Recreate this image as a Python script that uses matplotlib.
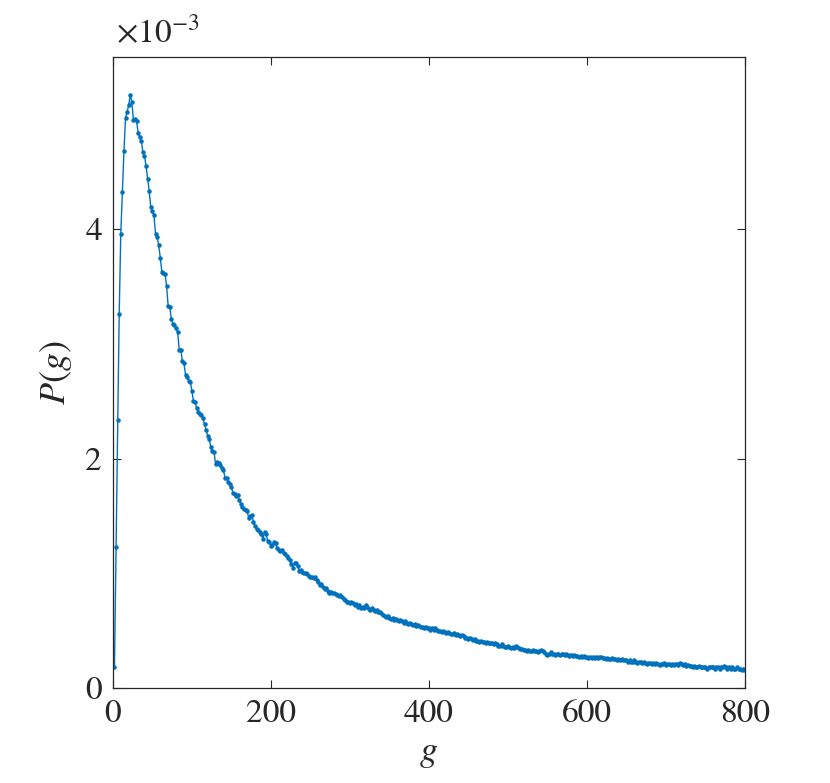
import numpy as np
import matplotlib
matplotlib.use("Agg")
import matplotlib.pyplot as plt

# P(g), in units of 1e-3, for g = 2, 4, ..., 800
g = np.arange(2, 801, 2)
p_milli = [
    # g = 2 .. 80
    0.18, 1.23, 2.34, 3.26, 3.96, 4.32, 4.68, 4.97, 5.02, 5.08,
    5.17, 5.11, 4.95, 4.96, 4.94, 4.84, 4.80, 4.77, 4.67, 4.64,
    4.55, 4.44, 4.33, 4.19, 4.16, 4.12, 3.96, 3.93, 3.86, 3.75,
    3.63, 3.62, 3.61, 3.50, 3.33, 3.32, 3.22, 3.17, 3.16, 3.14,
    # g = 82 .. 140
    3.10, 2.95, 2.95, 2.85, 2.83, 2.73, 2.71, 2.68, 2.67, 2.59,
    2.50, 2.49, 2.44, 2.41, 2.39, 2.38, 2.35, 2.30, 2.25, 2.20,
    2.17, 2.10, 2.07, 2.06, 1.95, 1.97, 1.96, 1.94, 1.92, 1.90,
    # g = 142 .. 240
    1.83, 1.83, 1.80, 1.78, 1.75, 1.70, 1.69, 1.67, 1.68, 1.64,
    1.60, 1.58, 1.56, 1.55, 1.54, 1.48, 1.50, 1.51, 1.45, 1.41,
    1.39, 1.38, 1.36, 1.34, 1.30, 1.36, 1.34, 1.28, 1.27, 1.24,
    1.25, 1.27, 1.26, 1.22, 1.20, 1.19, 1.20, 1.18, 1.17, 1.15,
    1.13, 1.12, 1.08, 1.05, 1.09, 1.09, 1.06, 1.02, 1.03, 1.01,
    # g = 242 .. 340
    1.00, 1.00, 0.99, 0.98, 0.97, 0.97, 0.96, 0.97, 0.94, 0.92,
    0.90, 0.91, 0.88, 0.86, 0.87, 0.85, 0.83, 0.84, 0.83, 0.83,
    0.82, 0.81, 0.80, 0.81, 0.79, 0.78, 0.77, 0.75, 0.75, 0.74,
    0.75, 0.74, 0.72, 0.73, 0.71, 0.72, 0.70, 0.71, 0.70, 0.72,
    0.71, 0.69, 0.68, 0.70, 0.68, 0.67, 0.68, 0.66, 0.66, 0.65,
    # g = 342 .. 440
    0.64, 0.63, 0.62, 0.63, 0.61, 0.60, 0.61, 0.59, 0.60, 0.59,
    0.58, 0.59, 0.58, 0.57, 0.58, 0.57, 0.56, 0.57, 0.56, 0.55,
    0.56, 0.54, 0.55, 0.54, 0.53, 0.53, 0.52, 0.53, 0.52, 0.52,
    0.51, 0.52, 0.51, 0.52, 0.51, 0.50, 0.50, 0.49, 0.50, 0.49,
    0.48, 0.49, 0.48, 0.47, 0.47, 0.48, 0.46, 0.47, 0.46, 0.45,
    # g = 442 .. 540
    0.46, 0.45, 0.44, 0.44, 0.43, 0.44, 0.43, 0.42, 0.43, 0.41,
    0.41, 0.40, 0.41, 0.40, 0.40, 0.39, 0.40, 0.39, 0.39, 0.39,
    0.38, 0.39, 0.38, 0.37, 0.37, 0.38, 0.37, 0.36, 0.36, 0.37,
    0.36, 0.35, 0.36, 0.35, 0.37, 0.36, 0.35, 0.34, 0.34, 0.33,
    0.33, 0.32, 0.33, 0.32, 0.32, 0.33, 0.32, 0.32, 0.31, 0.32,
    # g = 542 .. 640
    0.33, 0.32, 0.31, 0.30, 0.29, 0.30, 0.31, 0.30, 0.30, 0.29,
    0.30, 0.30, 0.29, 0.30, 0.30, 0.29, 0.30, 0.29, 0.28, 0.29,
    0.28, 0.29, 0.28, 0.28, 0.27, 0.28, 0.27, 0.28, 0.27, 0.27,
    0.26, 0.27, 0.26, 0.27, 0.26, 0.27, 0.26, 0.27, 0.27, 0.26,
    0.26, 0.25, 0.26, 0.25, 0.25, 0.26, 0.25, 0.25, 0.24, 0.25,
    # g = 642 .. 740
    0.24, 0.25, 0.24, 0.24, 0.24, 0.23, 0.24, 0.23, 0.23, 0.24,
    0.23, 0.22, 0.23, 0.23, 0.22, 0.23, 0.22, 0.21, 0.22, 0.22,
    0.21, 0.22, 0.21, 0.22, 0.21, 0.20, 0.21, 0.21, 0.22, 0.20,
    0.21, 0.21, 0.20, 0.21, 0.20, 0.21, 0.21, 0.20, 0.22, 0.21,
    0.20, 0.21, 0.19, 0.20, 0.19, 0.19, 0.18, 0.19, 0.18, 0.18,
    # g = 742 .. 800
    0.19, 0.18, 0.18, 0.18, 0.18, 0.17, 0.18, 0.18, 0.18, 0.18,
    0.17, 0.18, 0.18, 0.17, 0.18, 0.18, 0.19, 0.18, 0.17, 0.18,
    0.17, 0.18, 0.17, 0.17, 0.18, 0.17, 0.17, 0.16, 0.17, 0.16,
]

x_ticks = [0, 200, 400, 600, 800]
y_ticks = [0, 2, 4]

# Times-like look, as in the MATLAB original
plt.rcParams["font.family"] = ["STIXGeneral", "Liberation Serif"]
plt.rcParams["mathtext.fontset"] = "stix"

AX_COL = "#262626"
LINE_COL = "#0072BD"

fig = plt.figure(figsize=(8.3, 7.83), dpi=100)
ax = fig.add_axes([0.136, 0.1213, 0.7614, 0.8059])

ax.plot(g, p_milli, "-", marker=".", color=LINE_COL, lw=1.0, ms=4.5)

ax.set_xlim(0, 800)
ax.set_ylim(0, 5.5)
ax.set_xticks(x_ticks)
ax.set_yticks(y_ticks)
ax.tick_params(direction="in", top=True, right=True, length=6, width=0.8,
               labelsize=24, colors=AX_COL, pad=8)
for s in ax.spines.values():
    s.set_color(AX_COL)
    s.set_linewidth(0.9)

ax.set_xlabel("$g$", fontsize=26, color=AX_COL, labelpad=6)
ax.set_ylabel("$P(g)$", fontsize=26, color=AX_COL, labelpad=8)

# MATLAB-style exponent label above the axes
ax.text(0.005, 1.012, r"$\times$10$^{\mathregular{-3}}$", transform=ax.transAxes,
        fontsize=24, color=AX_COL, ha="left", va="bottom")

fig.savefig("out.png", dpi=100)
